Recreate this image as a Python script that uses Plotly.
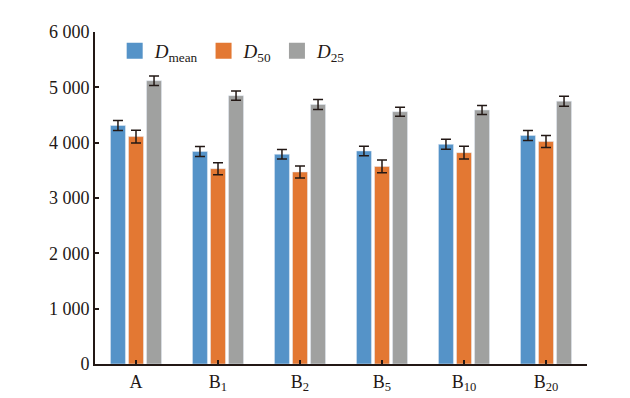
import plotly.graph_objects as go

categories = ["A", "B<sub>1</sub>", "B<sub>2</sub>", "B<sub>5</sub>", "B<sub>10</sub>", "B<sub>20</sub>"]
series_names = ["<i>D</i><sub>mean</sub>", "<i>D</i><sub>50</sub>", "<i>D</i><sub>25</sub>"]
d_mean = [4310, 3840, 3790, 3850, 3970, 4130]
d_mean_err = [90, 90, 85, 85, 90, 90]
d_50 = [4110, 3530, 3470, 3570, 3820, 4020]
d_50_err = [115, 108, 108, 115, 115, 108]
d_25 = [5120, 4850, 4690, 4560, 4590, 4750]
d_25_err = [85, 85, 90, 82, 82, 90]
colors = ["#5593c8", "#e37833", "#a0a1a0"]

ink = "#231815"
serif = "Times New Roman"
fig = go.Figure()
for name, vals, errs, col in zip(series_names, [d_mean, d_50, d_25], [d_mean_err, d_50_err, d_25_err], colors):
    fig.add_trace(go.Bar(
        x=categories, y=vals, name=name, marker_color=col, showlegend=False,
        error_y=dict(type="data", array=errs, color=ink, thickness=1.5, width=5),
    ))
    fig.add_trace(go.Scatter(
        x=[None], y=[None], mode="markers", name=name,
        marker=dict(symbol="square", size=16, color=col),
    ))

fig.update_layout(
    width=630, height=398,
    margin=dict(l=95, r=43, t=32, b=34, autoexpand=False),
    plot_bgcolor="white", paper_bgcolor="white",
    font=dict(family=serif, size=18, color=ink),
    separators=". ",
    barmode="group", bargap=0.34, bargroupgap=0.17,
    legend=dict(orientation="h", x=0.04, y=1.0, xanchor="left", yanchor="top",
                font=dict(family=serif, size=19), bgcolor="rgba(0,0,0,0)", itemwidth=30),
    showlegend=True,
)
fig.update_yaxes(range=[0, 6000], tickvals=[0, 1000, 2000, 3000, 4000, 5000, 6000],
                 tickformat=",d", showgrid=False, zeroline=False, showline=True,
                 linecolor=ink, linewidth=2, ticks="inside", ticklen=4, tickcolor=ink, tickwidth=1.5,
                 automargin=False, tickfont=dict(family=serif, size=18))
fig.update_xaxes(showgrid=False, showline=True, linecolor=ink, linewidth=2,
                 ticks="inside", ticklen=4, tickcolor=ink, tickwidth=1.5, automargin=False,
                 tickfont=dict(family=serif, size=18))

fig.write_html("out.html", config={"displayModeBar": False},
               post_script="document.body.style.margin='0';document.body.style.padding='0';")
